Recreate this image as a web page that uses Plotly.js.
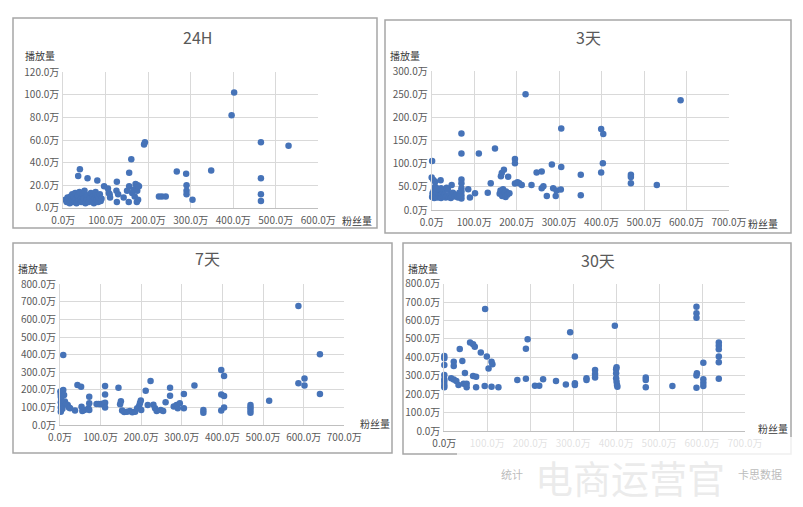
<!DOCTYPE html>
<html>
<head>
<meta charset="utf-8">
<script src="https://cdn.plot.ly/plotly-3.0.1.min.js"></script>
<style>html,body{margin:0;padding:0;background:#fff;}#chart{width:803px;height:507px;}</style>
</head>
<body>
<div id="chart"></div>
<script>
// ---------- DATA (粉丝量 x, 播放量 y, 单位: 万) ----------
const panelTitles = ["24H", "3天", "7天", "30天"];
const xAxisTitle = "粉丝量";
const yAxisTitle = "播放量";

const fans24h = [5,8,10,12,14,15,17,18,20,21,22,24,25,27,28,30,31,33,34,36,38,40,42,44,45,47,48,50,52,54,56,58,60,62,65,68,70,72,74,76,78,80,82,84,86,88,90,
  35,39,57,80,96,105,107,110,109,126,126,125,129,142,150,155,155,154,160,162,165,168,170,172,174,175,176,173,178,190,192,225,232,241,267,289,290,290,290,304,348,396,402,465,465,465,465,530];
const plays24h = [7,5,9,6,8,4,10,6,8,12,5,7,10,6,13,8,4,9,11,6,14,7,5,10,12,6,8,15,4,9,7,11,5,8,13,6,10,4,8,14,7,11,5,9,12,6,8,
  28,34,26,24,19,17,13,9,12,23,5,15,12,9,15,31,19,5,43,13,16,10,21,18,15,20,7,5,19,56,58,10,10,10,32,30,20,15,12,7,33,82,102,58,26,12,6,55];

const fans3d = [1,2,3,5,6,8,10,12,14,16,18,20,22,24,26,28,30,33,36,38,40,43,45,48,50,55,58,62,
  0,1,4,8,8,12,21,22,35,47,
  70,70,70,70,70,70,70,70,65,67,
  86,90,102,111,132,139,149,
  160,162,163,165,166,168,170,172,174,175,178,180,183,
  196,196,196,202,206,212,221,235,247,259,259,263,271,283,286,292,294,304,305,305,
  351,351,399,399,403,404,469,469,469,530,586];
const plays3d = [28,36,31,42,26,33,29,38,27,32,44,30,26,35,40,29,33,27,31,45,28,34,26,30,37,29,32,27,
  70,106,65,61,50,47,64,47,48,54,
  165,122,66,58,47,40,32,25,37,29,
  45,27,36,122,37,58,133,
  35,42,73,80,30,45,87,38,28,40,33,72,36,
  110,101,57,60,58,54,250,54,81,83,47,51,30,98,47,30,42,44,176,93,
  76,32,175,81,101,164,76,71,58,54,237];

const fans7d = [1,2,2,3,2,3,2,3,2,4,5,6,8,8,10,12,15,19,22,25,37,43,52,53,55,60,70,72,72,72,
  90,95,100,104,108,111,111,111,111,
  144,148,150,153,158,165,172,178,185,190,195,197,199,200,
  211,216,223,230,234,238,248,254,260,271,271,280,287,290,295,305,305,331,
  353,353,397,397,397,404,404,404,469,469,469,469,515,587,587,602,602,640,640];
const plays7d = [190,175,160,145,130,115,100,85,76,125,108,92,398,199,170,133,118,114,100,95,82,227,218,104,80,85,95,123,161,85,
  119,120,118,121,116,222,174,127,99,
  212,118,135,82,74,76,80,72,76,95,110,125,140,85,
  195,114,250,115,95,80,85,80,129,212,167,105,114,95,123,176,95,224,
  85,70,313,174,82,279,165,99,114,99,85,70,138,677,237,265,224,402,176];

const fans30d = [0,0,0,0,0,0,0,0,
  16,22,22,22,28,33,36,42,45,48,52,52,
  60,67,71,67,74,74,85,95,94,99,103,110,112,110,126,
  170,190,190,194,211,221,230,260,283,293,304,304,304,331,331,
  351,351,351,397,401,400,400,400,401,402,403,
  469,469,469,531,587,587,587,588,587,587,603,603,603,603,
  639,639,639,639,639,639];
const plays30d = [407,395,358,304,281,268,250,237,
  286,376,353,280,271,250,445,380,257,315,257,237,
  480,471,458,299,295,237,427,662,244,404,340,376,362,241,237,
  277,284,447,498,246,246,281,271,253,536,404,259,250,286,277,
  331,310,291,572,346,335,313,286,268,250,241,
  291,277,237,244,675,639,615,313,302,235,371,281,262,244,
  480,463,444,404,373,284];

const xMax = [600, 700, 700, 700];
const yMax = [120, 300, 800, 800];
const yStep = [20, 50, 100, 100];

// ---------- LAYOUT GEOMETRY ----------
const W = 803, H = 507;
const PX = x => x / W;
const PY = y => 1 - y / H;
const FONT = '"Noto Sans CJK SC", "Noto Sans", sans-serif';

// plot areas in pixels [x0, x1, yTop, yBottom]
const areas = [
  [63.3, 318.3, 72.3, 207.7],
  [431.7, 729, 71, 210],
  [60, 344.3, 284.3, 425],
  [444.3, 745, 283.7, 431]
];
// panel frames [x0, y0, x1, y1]
const frames = [
  [13, 18, 377, 228],
  [385, 20, 791, 233],
  [13, 243, 392, 453],
  [403, 243, 791, 454]
];
const titlePos = [[197, 37], [588, 37], [208, 258], [598, 260]];
const yTitlePos = [[40, 55], [405, 55], [33, 268], [423, 268]];
const xTitlePos = [[357, 220], [763, 223], [375, 423], [773, 428]];

const allX = [fans24h, fans3d, fans7d, fans30d];
const allY = [plays24h, plays3d, plays7d, plays30d];

const traces = [];
const layout = {
  width: W, height: H,
  margin: {l: 0, r: 0, t: 0, b: 0},
  paper_bgcolor: '#ffffff',
  plot_bgcolor: '#ffffff',
  showlegend: false,
  hovermode: false,
  font: {family: FONT, color: '#595959', size: 10},
  shapes: [],
  annotations: []
};

for (let i = 0; i < 4; i++) {
  const s = i === 0 ? '' : String(i + 1);
  traces.push({
    type: 'scatter', mode: 'markers',
    x: allX[i], y: allY[i],
    xaxis: 'x' + s, yaxis: 'y' + s,
    marker: {color: '#4673b8', size: 6.5, line: {width: 0}},
    cliponaxis: false
  });
  const a = areas[i];
  layout['xaxis' + s] = {
    domain: [PX(a[0]), PX(a[1])],
    anchor: 'y' + s,
    range: [0, xMax[i]],
    tick0: 0, dtick: 100,
    tickformat: '.1f', ticksuffix: '万',
    showgrid: true, gridcolor: '#d9d9d9', gridwidth: 1,
    zeroline: false,
    showline: true, linecolor: '#bfbfbf', linewidth: 1,
    ticks: '', ticklen: 0,
    ticklabelstandoff: 3,
    tickfont: {family: FONT, size: 10, color: '#595959'},
    fixedrange: true
  };
  layout['yaxis' + s] = {
    domain: [PY(a[3]), PY(a[2])],
    anchor: 'x' + s,
    range: [0, yMax[i]],
    tick0: 0, dtick: yStep[i],
    tickformat: '.1f', ticksuffix: '万',
    showgrid: true, gridcolor: '#d9d9d9', gridwidth: 1,
    zeroline: false,
    showline: true, linecolor: '#d9d9d9', linewidth: 1,
    ticks: '', ticklen: 0,
    ticklabelstandoff: 1,
    tickfont: {family: FONT, size: 10, color: '#595959'},
    fixedrange: true
  };
  const f = frames[i];
  layout.shapes.push({
    type: 'rect', xref: 'paper', yref: 'paper', layer: 'below',
    x0: PX(f[0]), x1: PX(f[2]), y0: PY(f[3]), y1: PY(f[1]),
    line: {color: '#a6a6a6', width: 1.5}, fillcolor: 'rgba(0,0,0,0)'
  });
  layout.annotations.push({
    xref: 'paper', yref: 'paper', x: PX(titlePos[i][0]), y: PY(titlePos[i][1]),
    text: panelTitles[i], showarrow: false, xanchor: 'center', yanchor: 'middle',
    font: {family: FONT, size: 16, color: '#595959'}
  });
  layout.annotations.push({
    xref: 'paper', yref: 'paper', x: PX(yTitlePos[i][0]), y: PY(yTitlePos[i][1]),
    text: yAxisTitle, showarrow: false, xanchor: 'center', yanchor: 'middle',
    font: {family: FONT, size: 10, color: '#3a3a3a'}
  });
  layout.annotations.push({
    xref: 'paper', yref: 'paper', x: PX(xTitlePos[i][0]), y: PY(xTitlePos[i][1]),
    text: xAxisTitle, showarrow: false, xanchor: 'center', yanchor: 'middle',
    font: {family: FONT, size: 10, color: '#3a3a3a'}
  });
}

// watermark overlay
layout.shapes.push({
  type: 'rect', xref: 'paper', yref: 'paper', layer: 'above',
  x0: PX(457), x1: PX(803), y0: PY(507), y1: PY(437),
  line: {width: 0}, fillcolor: 'rgba(255,255,255,0.82)'
});
layout.annotations.push({
  xref: 'paper', yref: 'paper', x: PX(630), y: PY(476),
  text: '电商运营官', showarrow: false, xanchor: 'center', yanchor: 'middle',
  font: {family: FONT, size: 38, color: 'rgba(215,215,215,0.5)'}
});
layout.annotations.push({
  xref: 'paper', yref: 'paper', x: PX(512), y: PY(474),
  text: '统计', showarrow: false, xanchor: 'center', yanchor: 'middle',
  font: {family: FONT, size: 11, color: 'rgba(165,165,165,0.75)'}
});
layout.annotations.push({
  xref: 'paper', yref: 'paper', x: PX(760), y: PY(474),
  text: '卡思数据', showarrow: false, xanchor: 'center', yanchor: 'middle',
  font: {family: FONT, size: 11, color: 'rgba(165,165,165,0.75)'}
});

Plotly.newPlot('chart', traces, layout, {displayModeBar: false, staticPlot: true});
</script>
</body>
</html>
